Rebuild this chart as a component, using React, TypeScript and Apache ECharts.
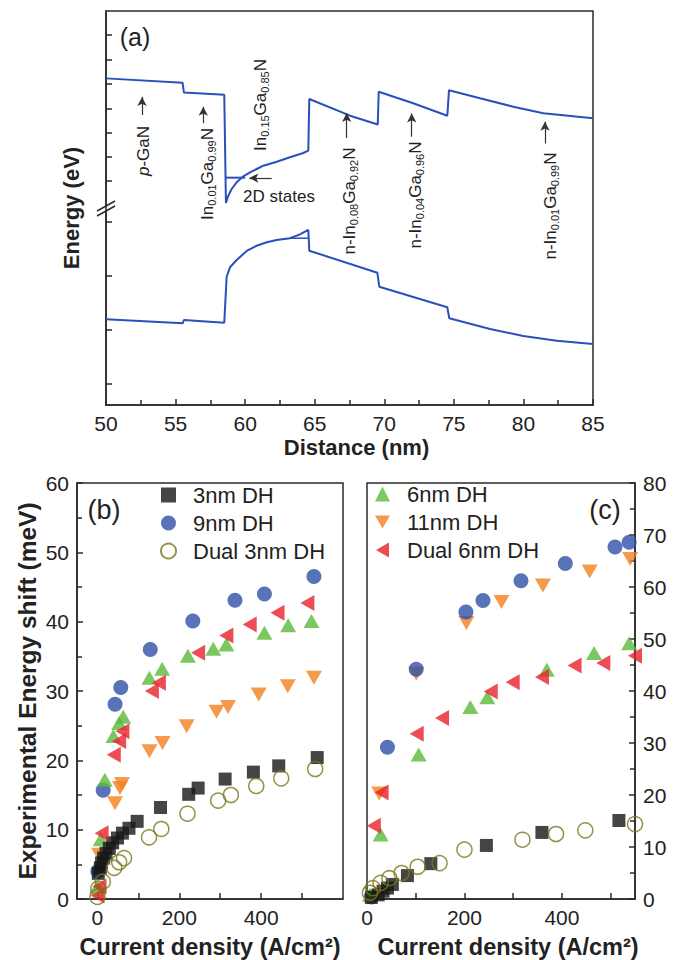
import React, { useEffect, useRef } from 'react';
import * as echarts from 'echarts';

const FONT = '"Liberation Sans", Arial, Helvetica, sans-serif';
const AXIS = '#2a2a2a';
const TXT = '#222';
const BAND = '#2b4fbd';

// ---------- Panel (a): band diagram (energy in arbitrary units, axis broken between bands)
const conductionBand: [number, number][] = [
  [50, 82.9], [55.5, 81.8], [55.6, 79.3], [58.5, 78.76], [58.62, 51.3],
  [58.79, 53.12], [59.03, 54.82], [59.39, 56.52], [59.87, 58.05], [60.35, 59.06],
  [60.83, 59.9], [61.31, 60.74], [62.27, 61.75], [63.22, 62.87], [64.18, 63.96], [64.54, 64.55],
  [64.61, 77.66], [67.54, 73.43], [69.53, 71.2], [69.6, 79.5], [72.08, 76.57], [74.53, 73.43],
  [74.65, 79.9], [76.88, 77.84], [79.27, 75.71], [81.43, 74.04], [85, 72.77],
];
const valenceBand: [number, number][] = [
  [50, 21.75], [55.51, 20.74], [55.6, 21.57], [58.5, 20.89], [58.67, 32.56], [58.91, 34.95],
  [59.39, 36.8], [60.11, 39.09], [60.83, 40.43], [61.55, 41.29], [62.27, 41.88], [63.22, 42.31],
  [63.94, 43.3], [64.54, 44.42], [64.61, 39.16], [69.5, 33.58], [69.64, 30.03], [74.53, 24.8],
  [74.67, 22.01], [77.6, 19.29], [79.99, 17.51], [82.39, 16.32], [85, 15.48],
];
const electron2D: [number, number][] = [[58.55, 57.7], [60.0, 57.7]];
const hole2D: [number, number][] = [[63.17, 42.3], [64.6, 42.3]];
const labelArrows: { from: [number, number]; to: [number, number] }[] = [
  { from: [52.59, 73.6], to: [52.59, 78.2] },
  { from: [56.99, 71.5], to: [56.99, 75.7] },
  { from: [61.91, 57.6], to: [60.3, 57.6] },
  { from: [67.3, 67.8], to: [67.3, 74.1] },
  { from: [71.97, 68.1], to: [71.97, 74.0] },
  { from: [81.55, 66.4], to: [81.55, 71.9] },
];
const energyTicks = [5.3, 19.0, 32.7, 46.4, 56.9, 63.0, 69.1, 75.3, 81.5, 87.7, 93.9];
const distanceRange = [50, 85];

// ---------- Panel (b)
const b3nm: [number, number][] = [[2, 3.7], [7, 4.5], [10, 5.2], [15, 5.9], [21, 6.6], [29, 7.3], [37, 8.1], [49, 8.8], [61, 9.5], [77, 10.2], [97, 11.2], [154, 13.2], [223, 15.1], [246, 16.0], [312, 17.3], [381, 18.3], [443, 19.2], [537, 20.4]];
const b9nm: [number, number][] = [[1, 4.0], [14, 15.7], [43, 28.1], [57, 30.5], [129, 36.0], [233, 40.1], [336, 43.1], [408, 44.0], [529, 46.5]];
const bDual3: [number, number][] = [[0, 0.3], [2, 1.5], [13, 2.5], [41, 4.5], [53, 5.3], [65, 5.9], [126, 8.9], [156, 10.1], [220, 12.3], [295, 14.2], [326, 15.0], [388, 16.3], [449, 17.4], [532, 18.75]];
const b6nm: [number, number][] = [[0, 1.8], [8, 8.6], [18, 17.2], [39, 23.5], [53, 25.4], [63, 26.3], [127, 31.9], [158, 33.2], [221, 35.1], [283, 36.1], [315, 36.7], [408, 38.4], [466, 39.5], [523, 40.1]];
const b11nm: [number, number][] = [[4, 6.4], [43, 13.8], [55, 16.0], [60, 16.6], [127, 21.3], [159, 22.5], [218, 24.9], [291, 27.0], [319, 27.7], [394, 29.5], [465, 30.7], [529, 31.9]];
const bDual6: [number, number][] = [[0, 0.5], [5, 1.8], [10, 9.5], [40, 20.8], [53, 22.8], [61, 24.2], [133, 30.0], [150, 31.2], [246, 35.5], [315, 38.0], [372, 39.6], [440, 41.3], [513, 42.7]];

// ---------- Panel (c)
const c3nm: [number, number][] = [[9, 0.3], [23, 0.8], [33, 1.5], [42, 2.1], [52, 2.8], [83, 4.5], [131, 6.8], [245, 10.3], [359, 12.8], [517, 15.1]];
const c9nm: [number, number][] = [[9, 0.4], [42, 29.2], [101, 44.2], [203, 55.2], [238, 57.4], [316, 61.2], [407, 64.5], [509, 67.7], [538, 68.6]];
const cDual3: [number, number][] = [[6, 1.2], [12, 2.1], [28, 3.1], [46, 4.0], [71, 5.0], [104, 6.2], [149, 6.9], [200, 9.5], [319, 11.4], [388, 12.5], [448, 13.2], [550, 14.4]];
const c6nm: [number, number][] = [[6, 0.8], [28, 12.4], [106, 27.8], [212, 36.9], [247, 38.8], [369, 44.1], [466, 47.3], [538, 49.2]];
const c11nm: [number, number][] = [[25, 20.3], [101, 43.3], [204, 53.1], [276, 57.1], [361, 60.3], [457, 63.0], [540, 65.4]];
const cDual6: [number, number][] = [[14, 14.1], [30, 20.5], [102, 31.8], [154, 34.8], [254, 39.9], [299, 41.7], [359, 42.7], [426, 44.9], [485, 45.4], [550, 46.8]];

const shiftTicksB = [0, 100, 200, 300, 400, 500];
const shiftLabelsB = [0, 200, 400];

const TRI_DOWN = 'path://M0,0L10,0L5,8.66Z';
const TRI_LEFT = 'path://M8.66,0L8.66,10L0,5Z';

const styles: Record<string, any> = {
  '3nm DH': { symbol: 'rect', symbolSize: 13, itemStyle: { color: '#161616' } },
  '9nm DH': { symbol: 'circle', symbolSize: 15, itemStyle: { color: '#2f50a6' } },
  'Dual 3nm DH': { symbol: 'circle', symbolSize: 15, itemStyle: { color: 'rgba(255,255,255,0)', borderColor: '#7b781c', borderWidth: 1.5 } },
  '6nm DH': { symbol: 'triangle', symbolSize: [16, 14], itemStyle: { color: '#5ab93a' } },
  '11nm DH': { symbol: TRI_DOWN, symbolSize: [16, 14], itemStyle: { color: '#f2801f' } },
  'Dual 6nm DH': { symbol: TRI_LEFT, symbolSize: [14, 16], itemStyle: { color: '#e8202a' } },
};

function scatter(name: string, data: [number, number][], idx: number) {
  return { type: 'scatter', name, data, xAxisIndex: idx, yAxisIndex: idx, silent: true, ...styles[name] };
}

const lineStyleAxis = { color: AXIS, width: 1.5 };
const tickLabel = { fontSize: 21, color: TXT, fontFamily: FONT, margin: 8 };
const titleStyle = { fontSize: 23.5, fontWeight: 'bold', color: TXT, fontFamily: FONT };

const richLabel = {
  n: { fontSize: 17, lineHeight: 20, color: TXT, fontFamily: FONT },
  i: { fontSize: 17, lineHeight: 20, color: TXT, fontFamily: FONT, fontStyle: 'italic' },
  s: { fontSize: 11, lineHeight: 8, verticalAlign: 'bottom', color: TXT, fontFamily: FONT },
};

function vText(x: number, y: number, text: string) {
  return {
    type: 'text', x, y, rotation: Math.PI / 2, silent: true,
    style: { text, align: 'center', verticalAlign: 'middle', rich: richLabel, fill: TXT, font: `17px ${FONT}` },
  };
}

const legendText = { fontSize: 22, color: TXT, fontFamily: FONT, padding: [0, 0, 0, 12] };

export default function App() {
  const ref = useRef<HTMLDivElement>(null);
  useEffect(() => {
    const chart = echarts.init(ref.current!, null, { renderer: 'svg' });
    const gridBase = { show: true, borderColor: AXIS, borderWidth: 1.5, backgroundColor: 'transparent', outerBoundsMode: 'none', containLabel: false };
    const option: any = {
      animation: false,
      backgroundColor: '#fff',
      textStyle: { fontFamily: FONT },
      grid: [
        { ...gridBase, left: 106, top: 11, width: 487, height: 394 },
        { ...gridBase, left: 77, top: 483, width: 266, height: 416 },
        { ...gridBase, left: 367, top: 483, width: 268, height: 416 },
      ],
      legend: [
        {
          data: ['3nm DH', '9nm DH', 'Dual 3nm DH'], orient: 'vertical', left: 160, top: 484, padding: 0,
          itemWidth: 15, itemHeight: 15, itemGap: 6, selectedMode: false, textStyle: legendText,
        },
        {
          data: ['6nm DH', '11nm DH', 'Dual 6nm DH'], orient: 'vertical', left: 375, top: 483, padding: 0,
          itemWidth: 15, itemHeight: 15, itemGap: 6, selectedMode: false, textStyle: legendText,
        },
      ],
      xAxis: [
        {
          gridIndex: 0, type: 'value', min: distanceRange[0], max: distanceRange[1], interval: 5,
          axisLine: { show: true, onZero: false, lineStyle: lineStyleAxis },
          axisTick: { show: true, inside: true, length: 6, lineStyle: lineStyleAxis },
          minorTick: { show: true, splitNumber: 2, length: 5, lineStyle: lineStyleAxis },
          splitLine: { show: false }, minorSplitLine: { show: false },
          axisLabel: { ...tickLabel },
          name: 'Distance (nm)', nameLocation: 'middle', nameGap: 31, nameMoveOverlap: false,
          nameTextStyle: { ...titleStyle, fontSize: 22, padding: [0, 0, 0, 14] },
        },
        {
          gridIndex: 1, type: 'value', min: -50, max: 600,
          axisLine: { show: true, onZero: false, lineStyle: lineStyleAxis },
          axisTick: { show: true, inside: true, length: 6, lineStyle: lineStyleAxis, customValues: shiftTicksB },
          splitLine: { show: false },
          axisLabel: { ...tickLabel, customValues: shiftLabelsB },
          name: 'Current density (A/cm²)', nameLocation: 'middle', nameGap: 36, nameMoveOverlap: false,
          nameTextStyle: { ...titleStyle },
        },
        {
          gridIndex: 2, type: 'value', min: 0, max: 550,
          axisLine: { show: true, onZero: false, lineStyle: lineStyleAxis },
          axisTick: { show: true, inside: true, length: 6, lineStyle: lineStyleAxis, customValues: shiftTicksB },
          splitLine: { show: false },
          axisLabel: { ...tickLabel, customValues: shiftLabelsB },
          name: 'Current density (A/cm²)', nameLocation: 'middle', nameGap: 36, nameMoveOverlap: false,
          nameTextStyle: { ...titleStyle, padding: [0, 0, 0, 14] },
        },
      ],
      yAxis: [
        {
          gridIndex: 0, type: 'value', min: 0, max: 100,
          axisLine: { show: true, onZero: false, lineStyle: lineStyleAxis },
          axisTick: { show: true, inside: true, length: 6, lineStyle: lineStyleAxis, customValues: energyTicks },
          axisLabel: { show: false }, splitLine: { show: false },
          name: 'Energy (eV)', nameLocation: 'middle', nameGap: 24, nameMoveOverlap: false,
          nameTextStyle: { ...titleStyle, fontSize: 22 },
        },
        {
          gridIndex: 1, type: 'value', min: 0, max: 60, interval: 10,
          axisLine: { show: true, onZero: false, lineStyle: lineStyleAxis },
          axisTick: { show: true, inside: true, length: 6, lineStyle: lineStyleAxis },
          minorTick: { show: true, splitNumber: 2, length: 5, lineStyle: lineStyleAxis },
          splitLine: { show: false }, minorSplitLine: { show: false },
          axisLabel: { ...tickLabel },
          name: 'Experimental Energy shift (meV)', nameLocation: 'middle', nameGap: 37, nameMoveOverlap: false,
          nameTextStyle: { ...titleStyle, fontSize: 24.5 },
        },
        {
          gridIndex: 2, type: 'value', min: 0, max: 80, interval: 10, position: 'right',
          axisLine: { show: true, onZero: false, lineStyle: lineStyleAxis },
          axisTick: { show: true, inside: true, length: 6, lineStyle: lineStyleAxis },
          minorTick: { show: true, splitNumber: 2, length: 5, lineStyle: lineStyleAxis },
          splitLine: { show: false }, minorSplitLine: { show: false },
          axisLabel: { ...tickLabel },
        },
      ],
      series: [
        { type: 'line', name: 'Conduction band', data: conductionBand, xAxisIndex: 0, yAxisIndex: 0, symbol: 'none', silent: true, lineStyle: { color: BAND, width: 2 }, itemStyle: { color: BAND } },
        {
          type: 'line', name: 'Valence band', data: valenceBand, xAxisIndex: 0, yAxisIndex: 0, symbol: 'none', silent: true,
          lineStyle: { color: BAND, width: 2 }, itemStyle: { color: BAND },
          markLine: {
            silent: true, symbol: ['none', 'arrow'], symbolSize: [7, 9], animation: false,
            lineStyle: { color: '#333', width: 1.2, type: 'solid' }, label: { show: false },
            emphasis: { disabled: true },
            data: labelArrows.map((a) => [{ coord: a.from }, { coord: a.to }]),
          },
        },
        { type: 'line', name: 'Electron 2D states', data: electron2D, xAxisIndex: 0, yAxisIndex: 0, symbol: 'none', silent: true, lineStyle: { color: BAND, width: 2 } },
        { type: 'line', name: 'Hole 2D states', data: hole2D, xAxisIndex: 0, yAxisIndex: 0, symbol: 'none', silent: true, lineStyle: { color: BAND, width: 1.5 } },
        scatter('9nm DH', b9nm, 1),
        scatter('6nm DH', b6nm, 1),
        scatter('11nm DH', b11nm, 1),
        scatter('3nm DH', b3nm, 1),
        scatter('Dual 6nm DH', bDual6, 1),
        scatter('Dual 3nm DH', bDual3, 1),
        scatter('11nm DH', c11nm, 2),
        scatter('9nm DH', c9nm, 2),
        scatter('6nm DH', c6nm, 2),
        scatter('Dual 6nm DH', cDual6, 2),
        scatter('3nm DH', c3nm, 2),
        scatter('Dual 3nm DH', cDual3, 2),
      ],
      graphic: [
        { type: 'text', x: 135, y: 37, silent: true, style: { text: '(a)', font: `25px ${FONT}`, fill: TXT, align: 'center', verticalAlign: 'middle' } },
        { type: 'text', x: 104, y: 510, silent: true, style: { text: '(b)', font: `27px ${FONT}`, fill: TXT, align: 'center', verticalAlign: 'middle' } },
        { type: 'text', x: 605, y: 510, silent: true, style: { text: '(c)', font: `27px ${FONT}`, fill: TXT, align: 'center', verticalAlign: 'middle' } },
        vText(143, 151, '{i|p}{n|-GaN}'),
        vText(207, 174, '{n|In}{s|0.01}{n|Ga}{s|0.99}{n|N}'),
        vText(260, 105, '{n|In}{s|0.15}{n|Ga}{s|0.85}{n|N}'),
        vText(349, 201, '{n|n-In}{s|0.08}{n|Ga}{s|0.92}{n|N}'),
        vText(415, 195, '{n|n-In}{s|0.04}{n|Ga}{s|0.96}{n|N}'),
        vText(550, 206, '{n|n-In}{s|0.01}{n|Ga}{s|0.99}{n|N}'),
        { type: 'text', x: 279, y: 196, silent: true, style: { text: '2D states', font: `17px ${FONT}`, fill: TXT, align: 'center', verticalAlign: 'middle' } },
        { type: 'polygon', silent: true, shape: { points: [[97, 211], [115, 201], [115, 206], [97, 216]] }, style: { fill: '#fff' } },
        { type: 'line', silent: true, shape: { x1: 97, y1: 211, x2: 115, y2: 201 }, style: { stroke: AXIS, lineWidth: 1.5 } },
        { type: 'line', silent: true, shape: { x1: 97, y1: 216, x2: 115, y2: 206 }, style: { stroke: AXIS, lineWidth: 1.5 } },
      ],
    };
    chart.setOption(option);
    return () => chart.dispose();
  }, []);
  return <div ref={ref} style={{ position: 'fixed', left: 0, top: 0, width: 678, height: 960, background: '#fff' }} />;
}
